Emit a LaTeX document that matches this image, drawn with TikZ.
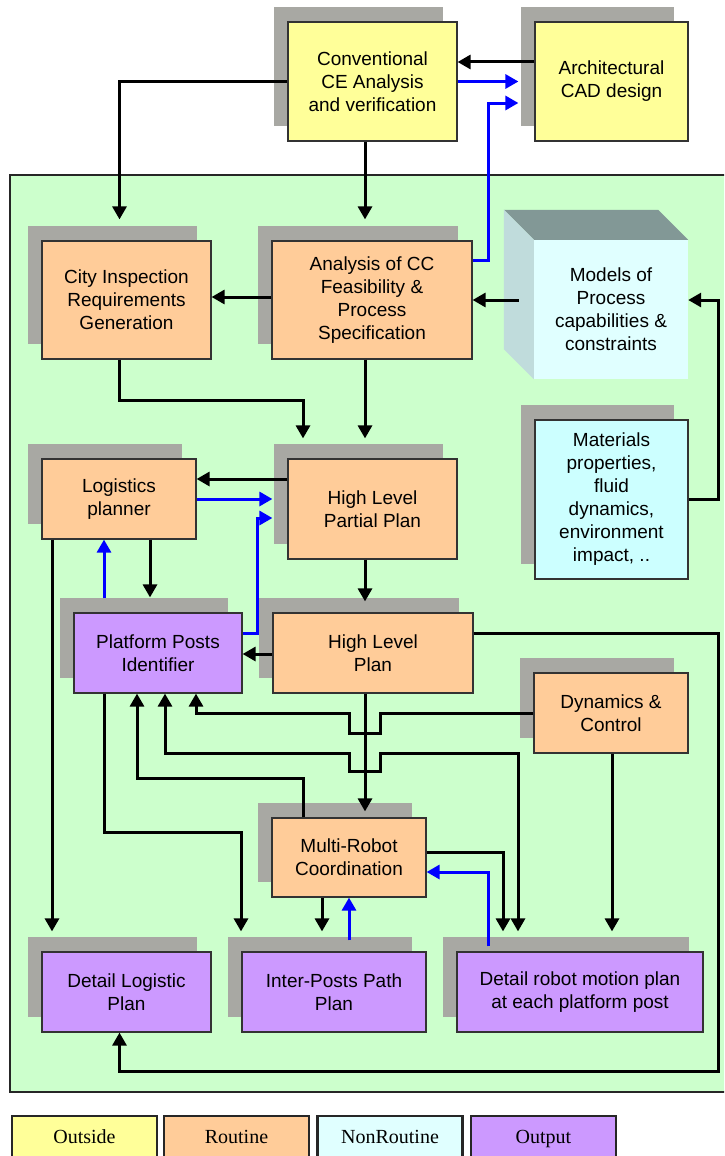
\documentclass[tikz,border=0pt]{standalone}
\usepackage{fontspec}
\setmainfont{Liberation Sans}
\newfontfamily\legendfont{Liberation Serif}
\usetikzlibrary{arrows.meta,shadows,calc}
\definecolor{outside}{RGB}{255,255,153}
\definecolor{routine}{RGB}{255,204,153}
\definecolor{nonroutine}{RGB}{204,255,255}
\definecolor{pale}{RGB}{224,255,255}
\definecolor{output}{RGB}{204,153,255}
\definecolor{panel}{RGB}{204,255,204}
\definecolor{shade}{RGB}{168,168,163}
\definecolor{cubetop}{RGB}{130,152,150}
\definecolor{cubeside}{RGB}{192,220,220}
\definecolor{link}{RGB}{0,0,255}
\tikzset{
  >={Triangle[length=13pt,width=14pt]},
  wh/.style 2 args={minimum width=#1pt,minimum height=#2pt},
  box/.style={draw=black!80,line width=1.2pt,fill=#1,align=center,inner sep=0pt,
    font=\fontsize{19}{23}\selectfont,
    general shadow={fill=shade,shadow xshift=-14pt,shadow yshift=15pt}},
  box/.default=routine,
  flow/.style={->,line width=3pt,draw=#1},
  flow/.default=black,
  key/.style={draw=black!85,line width=2.5pt,fill=#1,minimum width=145pt,
    minimum height=44pt,text height=14pt,text depth=4pt,
    font=\legendfont\fontsize{20}{24}\selectfont},
}

\begin{document}
\begin{tikzpicture}[x=1pt,y=-1pt]
  \clip (0,0) rectangle (724,1156);
  % panel
  \draw[fill=panel,line width=2pt,draw=black!85] (10,175) rectangle (740,1092);

  % outside
  \node[box=outside,wh={169}{119}] (conv) at (372.5,81.5) {Conventional\\CE Analysis\\and verification};
  \node[box=outside,wh={153}{119}] (arch) at (611.5,81.5) {Architectural\\CAD design};

  % routine / nonroutine
  \node[box,wh={169}{118}] (city) at (126.5,300) {City Inspection\\Requirements\\Generation};
  \node[box,wh={200}{118}] (anal) at (372,300) {Analysis of CC\\Feasibility \&\\Process\\Specification};
  \node[fill=pale,wh={154}{139},align=center,font=\fontsize{19}{23}\selectfont] (models) at (611,309.5)
    {Models of\\Process\\capabilities \&\\constraints};
  \fill[cubetop] ($(models.north west)+(-30,-30)$) -- ($(models.north east)+(-30,-30)$)
    -- (models.north east) -- (models.north west) -- cycle;
  \fill[cubeside] ($(models.north west)+(-30,-30)$) -- (models.north west)
    -- (models.south west) -- ($(models.south west)+(-30,-30)$) -- cycle;
  \node[box=nonroutine,wh={153}{159}] (mat) at (611.5,499.5)
    {Materials\\properties,\\fluid\\dynamics,\\environment\\impact, ..};
  \node[box,wh={154}{80}] (logi) at (119,499) {Logistics\\planner};
  \node[box,wh={169}{100}] (hlpp) at (372.5,509) {High Level\\Partial Plan};
  \node[box=output,wh={168}{80}] (plat) at (158,653) {Platform Posts\\Identifier};
  \node[box,wh={200}{80}] (hlp) at (373,653) {High Level\\Plan};
  \node[box,wh={154}{80}] (dyn) at (611,713) {Dynamics \&\\Control};
  \node[box,wh={154}{79}] (multi) at (349,857.5) {Multi-Robot\\Coordination};

  % output
  \node[box=output,wh={169}{80}] (dlog) at (126.5,992) {Detail Logistic\\Plan};
  \node[box=output,wh={184}{80}] (inter) at (334,992) {Inter-Posts Path\\Plan};
  \node[box=output,wh={246}{80}] (drob) at (580,992) {Detail robot motion plan\\at each platform post};

  % connectors
  \draw[flow] (arch.west |- 0,62) -- (conv.east |- 0,62);
  \draw[flow=link,shorten >=16pt] (conv.east) -- (arch.west);
  \draw[flow=link,shorten >=16pt] (anal.east |- 0,260) -- (488,260) -- (488,103) -- (arch.west |- 0,103);
  \draw[flow,shorten >=21pt] (conv.west) -| ([xshift=-7pt]city.north);
  \draw[flow,shorten >=21pt] (conv.south -| 365,0) -- (anal.north -| 365,0);
  \draw[flow] (anal.west |- 0,297) -- (city.east |- 0,297);
  \draw[flow] ($(models.west |- 0,300)+(-15,0)$) -- (anal.east |- 0,300);
  \draw[flow] (mat.east |- 0,499) -- (718,499) |- (models.east |- 0,300);
  \draw[flow,shorten >=20pt] ([xshift=-7pt]city.south) |- (303,400) -- (hlpp.north -| 303,0);
  \draw[flow,shorten >=20pt] (anal.south -| 365,0) -- (hlpp.north -| 365,0);
  \draw[flow] (hlpp.west |- 0,479) -- (logi.east |- 0,479);
  \draw[flow=link,shorten >=15pt] (logi.east |- 0,499) -- (hlpp.west |- 0,499);
  \draw[flow=link,shorten >=15pt] (plat.east |- 0,633) -- (257,633) |- (hlpp.west |- 0,518);
  \draw[flow,shorten >=15pt] (logi.south -| 150,0) -- (plat.north -| 150,0);
  \draw[flow=link] ($(plat.north -| 104,0)+(0,-14)$) -- (logi.south -| 104,0);
  \draw[flow,shorten >=20pt] (logi.south -| 52,0) -- (dlog.north -| 52,0);
  \draw[flow,shorten >=11pt] (hlpp.south -| 365,0) -- (hlp.north -| 365,0);
  \draw[flow] (hlp.west |- 0,654) -- (plat.east |- 0,654);
  \draw[flow] (hlp.east |- 0,633) -- (718,633) -- (718,1071) -| ([xshift=-7pt]dlog.south);
  \draw[flow] (dyn.west) -- (380,713) -- (380,733) -- (349,733) -- (349,713) -| (plat.south -| 196,0);
  \draw[flow,<->,shorten <=20pt] (drob.north -| 518,0) |- (380,753) -- (380,771) -- (349,771)
    -- (349,753) -| (plat.south -| 165,0);
  \draw[flow] (multi.north -| 303,0) |- (137,778) -- (plat.south -| 137,0);
  \draw[flow,shorten >=6pt] (hlp.south -| 365,0) -- (multi.north -| 365,0);
  \draw[flow,shorten >=20pt] (plat.south -| 104,0) |- (241,832) -- (inter.north -| 241,0);
  \draw[flow,shorten >=20pt] (multi.east |- 0,852) -| (drob.north -| 503,0);
  \draw[flow=link] ($(drob.north -| 488,0)+(0,-5)$) |- (multi.east |- 0,872);
  \draw[flow,shorten >=20pt] (multi.south -| 322,0) -- (inter.north -| 322,0);
  \draw[flow=link] ($(inter.north -| 349,0)+(0,-11)$) -- (multi.south -| 349,0);
  \draw[flow,shorten >=20pt] (dyn.south -| 612,0) -- (drob.north -| 612,0);

  % legend
  \node[key=outside] (k1) at (84.5,1138) {Outside};
  \node[key=routine] (k2) at (236.5,1138) {Routine};
  \node[key=pale] (k3) at (390,1138) {NonRoutine};
  \node[key=output] (k4) at (543.5,1138) {Output};
\end{tikzpicture}
\end{document}
